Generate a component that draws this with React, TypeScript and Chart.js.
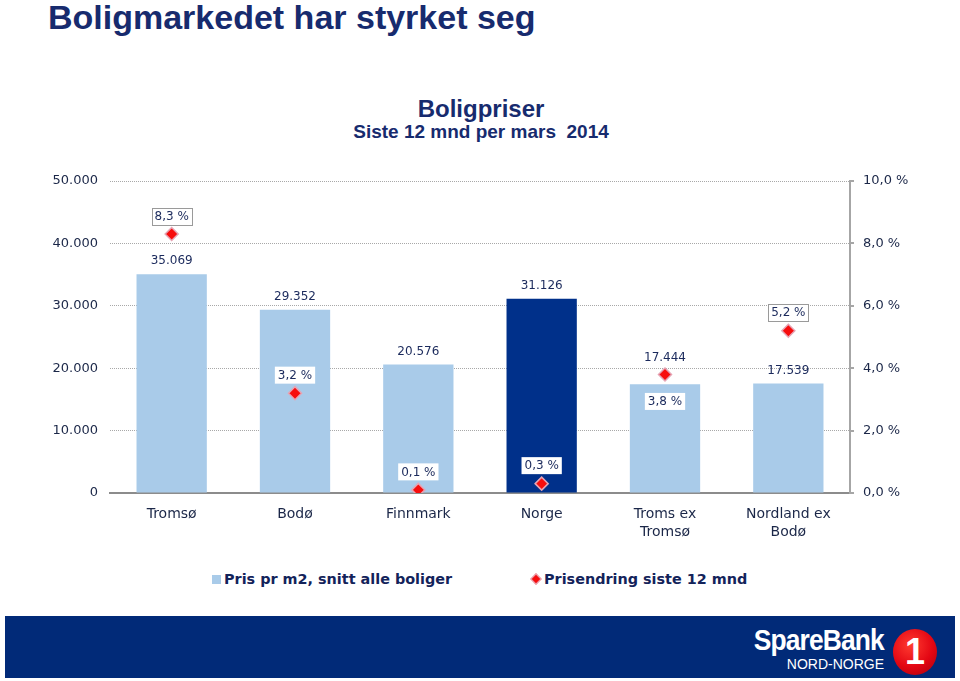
import React, { useEffect, useRef } from "react";
import { Chart, registerables } from "chart.js";

Chart.register(...registerables);

const categories: (string | string[])[] = [
  "Tromsø",
  "Bodø",
  "Finnmark",
  "Norge",
  ["Troms ex", "Tromsø"],
  ["Nordland ex", "Bodø"],
];
const pricePerM2 = [35069, 29352, 20576, 31126, 17444, 17539];
const priceChangePct = [8.3, 3.2, 0.1, 0.3, 3.8, 5.2];
const leftTicks = [0, 10000, 20000, 30000, 40000, 50000];
const rightTicks = [0, 2, 4, 6, 8, 10];
const highlightCategory = "Norge";
const pctLabelsBelow = [4];
const valueLabelsLifted = [4];

const seriesBarName = "Pris pr m2, snitt alle boliger";
const seriesPointName = "Prisendring siste 12 mnd";

const LIGHT = "#a9cbe9";
const DARK = "#00308a";
const NAVY = "#1b2a5c";
const FONT = '"DejaVu Sans", Verdana, sans-serif';

const fmtThousands = (v: number) =>
  String(Math.round(v)).replace(/\B(?=(\d{3})+(?!\d))/g, ".");
const fmtPct = (v: number) => v.toFixed(1).replace(".", ",") + " %";

const labelPlugin = {
  id: "valueLabels",
  afterDatasetsDraw(chart: any) {
    const ctx = chart.ctx;
    const barMeta = chart.getDatasetMeta(0);
    const ptMeta = chart.getDatasetMeta(1);
    ctx.save();
    ctx.font = "12px " + FONT;
    ctx.textAlign = "center";
    ctx.textBaseline = "middle";
    // pct labels
    ptMeta.data.forEach((el: any, i: number) => {
      const txt = fmtPct(priceChangePct[i]);
      const w = ctx.measureText(txt).width + 6;
      const h = 17;
      const below = pctLabelsBelow.includes(i);
      const cy = below ? el.y + 27 : el.y - 18;
      const x0 = el.x - w / 2;
      const y0 = cy - h / 2;
      const barTop = barMeta.data[i].y;
      const onBar = y0 + h > barTop;
      ctx.fillStyle = "#ffffff";
      ctx.fillRect(x0, y0, w, h);
      if (!onBar) {
        ctx.strokeStyle = "#9a9a9a";
        ctx.lineWidth = 1;
        ctx.strokeRect(Math.round(x0) + 0.5, Math.round(y0) + 0.5, Math.round(w), h);
      }
      ctx.fillStyle = NAVY;
      ctx.fillText(txt, el.x, cy + 0.5);
    });
    // bar values
    barMeta.data.forEach((el: any, i: number) => {
      const lift = valueLabelsLifted.includes(i) ? 26 : 13;
      ctx.fillStyle = NAVY;
      ctx.fillText(fmtThousands(pricePerM2[i]), el.x, el.y - lift);
    });
    ctx.restore();
  },
};

function ChartBox() {
  const ref = useRef<HTMLCanvasElement>(null);
  useEffect(() => {
    if (!ref.current) return;
    const chart = new Chart(ref.current, {
      type: "bar",
      data: {
        labels: categories as any,
        datasets: [
          {
            type: "bar",
            label: seriesBarName,
            data: pricePerM2,
            yAxisID: "y",
            order: 2,
            backgroundColor: (c: any) =>
              categories[c.dataIndex] === highlightCategory ? DARK : LIGHT,
            barPercentage: 0.57,
            categoryPercentage: 1,
          } as any,
          {
            type: "line",
            label: seriesPointName,
            data: priceChangePct,
            yAxisID: "y2",
            order: 1,
            showLine: false,
            pointStyle: "rectRot",
            pointRadius: 6.5,
            pointBackgroundColor: "#f70d0d",
            pointBorderColor: "#e6a4b4",
            pointBorderWidth: 1.5,
          } as any,
        ],
      },
      options: {
        responsive: false,
        devicePixelRatio: 1,
        animation: false,
        layout: { padding: { top: 31, left: 0, right: 0, bottom: 0 } },
        plugins: {
          legend: { display: false },
          tooltip: { enabled: false },
          title: { display: false },
        },
        scales: {
          x: {
            grid: { display: false },
            border: { display: true, color: "#8c8c8c", width: 2 },
            ticks: {
              color: "#1b2748",
              font: { family: FONT, size: 14, lineHeight: 1.3 },
              padding: 4,
              maxRotation: 0,
              autoSkip: false,
            },
            afterFit: (s: any) => {
              s.height = 67;
            },
          },
          y: {
            position: "left",
            min: 0,
            max: 50000,
            afterBuildTicks: (s: any) => {
              s.ticks = leftTicks.map((v) => ({ value: v }));
            },
            grid: {
              drawTicks: false,
              color: (c: any) =>
                c.tick && c.tick.value === 0 ? "rgba(0,0,0,0)" : "#a8a8a8",
              lineWidth: 1,
            },
            border: { display: false, dash: [1, 1] },
            ticks: {
              color: "#1b2748",
              font: { family: FONT, size: 13 },
              padding: 12,
              callback: (v: any) => fmtThousands(Number(v)),
            },
            afterFit: (s: any) => {
              s.width = 110;
            },
          },
          y2: {
            position: "right",
            min: 0,
            max: 10,
            afterBuildTicks: (s: any) => {
              s.ticks = rightTicks.map((v) => ({ value: v }));
            },
            grid: {
              drawOnChartArea: false,
              drawTicks: true,
              tickLength: 4,
              color: "#a6a6a6",
              lineWidth: 2,
            },
            border: { display: true, color: "#a6a6a6", width: 2 },
            ticks: {
              color: "#1b2748",
              font: { family: FONT, size: 13 },
              padding: 9,
              callback: (v: any) => fmtPct(Number(v)),
            },
            afterFit: (s: any) => {
              s.width = 110;
            },
          },
        },
      } as any,
      plugins: [labelPlugin],
    });
    return () => chart.destroy();
  }, []);
  return (
    <canvas
      ref={ref}
      width={960}
      height={410}
      style={{ position: "absolute", left: 0, top: 150, width: 960, height: 410 }}
    />
  );
}

export default function App() {
  const titleColor = "#172b6e";
  return (
    <div
      style={{
        position: "absolute",
        left: 0,
        top: 0,
        width: 960,
        height: 681,
        background: "#ffffff",
        overflow: "hidden",
        fontFamily: '"Liberation Sans", Arial, sans-serif',
      }}
    >
      <div
        style={{
          position: "absolute",
          left: 48,
          top: -2,
          fontSize: 34,
          fontWeight: 700,
          color: titleColor,
          whiteSpace: "nowrap",
          lineHeight: "38px",
        }}
      >
        Boligmarkedet har styrket seg
      </div>
      <div
        style={{
          position: "absolute",
          left: 0,
          width: 962,
          top: 95,
          textAlign: "center",
          fontSize: 24,
          fontWeight: 700,
          color: titleColor,
          lineHeight: "28px",
        }}
      >
        Boligpriser
      </div>
      <div
        style={{
          position: "absolute",
          left: 0,
          width: 962,
          top: 121,
          textAlign: "center",
          fontSize: 19,
          fontWeight: 700,
          color: titleColor,
          lineHeight: "22px",
          whiteSpace: "pre",
        }}
      >
        {"Siste 12 mnd per mars  2014"}
      </div>
      <ChartBox />
      {/* legend */}
      <div
        style={{
          position: "absolute",
          top: 570,
          left: 212,
          height: 18,
          display: "flex",
          alignItems: "center",
          fontFamily: FONT,
          fontWeight: 700,
          fontSize: 14.4,
          color: "#13235a",
          whiteSpace: "nowrap",
        }}
      >
        <span style={{ display: "inline-block", width: 9, height: 9, background: LIGHT, marginRight: 3 }} />
        <span>{seriesBarName}</span>
      </div>
      <div
        style={{
          position: "absolute",
          top: 570,
          left: 532,
          height: 18,
          display: "flex",
          alignItems: "center",
          fontFamily: FONT,
          fontWeight: 700,
          fontSize: 14.4,
          color: "#13235a",
          whiteSpace: "nowrap",
        }}
      >
        <span
          style={{
            display: "inline-block",
            width: 6,
            height: 6,
            background: "#f70d0d",
            border: "1px solid #e6a4b4",
            transform: "rotate(45deg)",
            marginRight: 4,
          }}
        />
        <span>{seriesPointName}</span>
      </div>
      {/* footer */}
      <div
        style={{
          position: "absolute",
          left: 5,
          top: 616,
          width: 950,
          height: 62,
          background: "#012a78",
        }}
      >
        <div
          style={{
            position: "absolute",
            right: 71,
            top: 8,
            color: "#ffffff",
            fontSize: 30,
            fontWeight: 700,
            lineHeight: "32px",
            letterSpacing: -1,
            transform: "scaleX(0.88)",
            transformOrigin: "right center",
            whiteSpace: "nowrap",
          }}
        >
          SpareBank
        </div>
        <div
          style={{
            position: "absolute",
            right: 71,
            top: 40,
            color: "#ffffff",
            fontSize: 14,
            lineHeight: "16px",
            whiteSpace: "nowrap",
          }}
        >
          NORD-NORGE
        </div>
        <div
          style={{
            position: "absolute",
            left: 888,
            top: 13,
            width: 44,
            height: 46,
            borderRadius: "50%",
            background: "radial-gradient(circle at 40% 35%, #ff3b30 0%, #e30613 55%, #a3000c 100%)",
            color: "#ffffff",
            fontSize: 36,
            fontWeight: 700,
            textAlign: "center",
            lineHeight: "46px",
          }}
        >
          1
        </div>
      </div>
    </div>
  );
}
